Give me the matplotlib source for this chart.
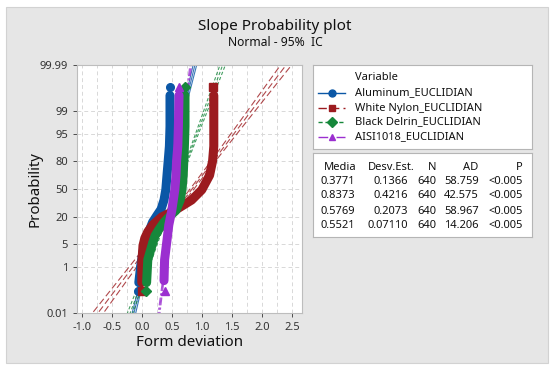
import statistics
import numpy as np
import matplotlib.pyplot as plt
from matplotlib.patches import Rectangle

plt.rcParams['font.family'] = ['Noto Sans', 'DejaVu Sans']

W, H = 550, 371

# =====================================================
# Data
# =====================================================

names = ["Aluminum_EUCLIDIAN", "White Nylon_EUCLIDIAN",
         "Black Delrin_EUCLIDIAN", "AISI1018_EUCLIDIAN"]

media = [0.3771, 0.8373, 0.5769, 0.5521]
desv = [0.1366, 0.4216, 0.2073, 0.07110]
n_obs = [640, 640, 640, 640]
ad = [58.759, 42.575, 58.967, 14.206]
p_val = ["<0.005", "<0.005", "<0.005", "<0.005"]

# empirical quantiles: x value vs. cumulative percent
alu_x = [-0.07, -0.05, -0.02, 0.02, 0.08, 0.13, 0.18, 0.26, 0.32, 0.37, 0.40, 0.42, 0.44, 0.46, 0.47, 0.47, 0.47]
alu_p = [0.11, 0.25, 1, 3, 7, 11, 16, 22, 27, 37, 49, 66, 80, 90, 97, 99.75, 99.89]

nyl_x = [0.0, 0.0, 0.0, 0.01, 0.02, 0.05, 0.10, 0.18, 0.33, 0.55, 0.83, 1.0, 1.13, 1.18, 1.2, 1.2, 1.2, 1.19]
nyl_p = [0.11, 0.25, 1.5, 2.5, 4.5, 7, 10, 14, 20, 26, 37, 49, 66, 80, 90, 97, 99.75, 99.89]

del_x = [0.07, 0.08, 0.10, 0.17, 0.22, 0.28, 0.37, 0.47, 0.57, 0.64, 0.67, 0.69, 0.70, 0.71, 0.72, 0.72, 0.72]
del_p = [0.11, 0.25, 1.7, 4.6, 8, 11, 16, 21, 26, 37, 49, 66, 80, 90, 97, 99.75, 99.89]

aisi_x = [0.38, 0.37, 0.38, 0.42, 0.45, 0.50, 0.55, 0.57, 0.58, 0.60, 0.61, 0.62, 0.62]
aisi_p = [0.11, 0.3, 1.7, 6.3, 14, 26, 49, 66, 80, 90, 97, 99.75, 99.89]

data_x = [alu_x, nyl_x, del_x, aisi_x]
data_p = [alu_p, nyl_p, del_p, aisi_p]

colors = ["#0B57A6", "#9C1B1F", "#16883B", "#9B2FD0"]
markers = ["o", "s", "D", "^"]
styles = ["-", (0, (6, 3)), (0, (3, 2)), (0, (7, 2, 2, 2))]

y_ticks = [0.01, 1, 5, 20, 50, 80, 95, 99, 99.99]
y_labels = ["0.01", "1", "5", "20", "50", "80", "95", "99", "99.99"]

nd = statistics.NormalDist()


def z_of(p):
    return [nd.inv_cdf(v / 100.0) for v in p]


def fx(px):
    return px / W


def fy(py):
    return 1 - py / H


# =====================================================
# Figure + grey panel
# =====================================================

fig = plt.figure(figsize=(5.5, 3.71), dpi=100)
fig.patch.set_facecolor("white")
fig.patches.append(Rectangle((fx(6), fy(363)), 542 / W, 356 / H,
                             transform=fig.transFigure, facecolor="#e6e6e6",
                             edgecolor="#d2d2d2", lw=0.8, zorder=-10))

fig.text(fx(275), fy(27), "Slope Probability plot", ha="center", va="center",
         fontsize=11, color="#111111")
fig.text(fx(275), fy(43), "Normal - 95%  IC", ha="center", va="center",
         fontsize=8.7, color="#111111")

# =====================================================
# Probability plot
# =====================================================

ax = fig.add_axes([fx(77), fy(313), 225 / W, 248 / H])
ax.set_facecolor("white")

zlim = nd.inv_cdf(0.9999)
ax.set_ylim(-zlim, zlim)
ax.set_xlim(-1.08, 2.67)

# fitted normal line and 95% confidence band from the table statistics
zz = np.linspace(-zlim - 0.2, zlim + 0.2, 60)
for i in range(4):
    mu, s, n = media[i], desv[i], n_obs[i]
    fit = mu + s * zz
    half = 1.96 * s * np.sqrt(1.0 / n + zz ** 2 / (2.0 * n))
    for xx in (fit, fit - half, fit + half):
        ax.plot(xx, zz, color=colors[i], ls=styles[i], lw=0.8, alpha=0.8, zorder=2)

for i in range(4):
    zs = z_of(data_p[i])
    xs = data_x[i]
    ax.plot(xs[1:-1], zs[1:-1], color=colors[i], lw=6.5, solid_capstyle="round",
            zorder=3 + (i == 3))
    ax.plot([xs[0], xs[-1]], [zs[0], zs[-1]], ls="none", marker=markers[i],
            ms=5.5, color=colors[i], zorder=3 + (i == 3))

ax.set_yticks(z_of(y_ticks))
ax.set_yticklabels(y_labels)
ax.set_xticks(np.arange(-1.0, 2.51, 0.5))
ax.set_xticklabels(["%.1f" % v for v in np.arange(-1.0, 2.51, 0.5)])
ax.set_xticks(np.arange(-1.0, 2.6, 0.25), minor=True)
ax.tick_params(axis="x", which="minor", length=0)
ax.tick_params(labelsize=8, colors="#333333", length=3, width=0.6)
ax.grid(True, which="both", axis="x", color="#d8d8d8", ls=(0, (4, 3)), lw=0.7)
ax.grid(True, which="major", axis="y", color="#d8d8d8", ls=(0, (4, 3)), lw=0.7)
ax.set_axisbelow(True)
for sp in ax.spines.values():
    sp.set_color("#bdbdbd")
    sp.set_linewidth(0.8)

fig.text(fx(35), fy(189), "Probability", rotation=90, ha="center", va="center",
         fontsize=10.8, color="#111111")
fig.text(fx(190), fy(343), "Form deviation", ha="center", va="center",
         fontsize=10.9, color="#111111")

# =====================================================
# Legend box
# =====================================================

L0, L1, T0, T1 = 313, 532, 65, 149
lg = fig.add_axes([fx(L0), fy(T1), (L1 - L0) / W, (T1 - T0) / H])
lg.set_xlim(L0, L1)
lg.set_ylim(T1, T0)
lg.set_xticks([])
lg.set_yticks([])
for sp in lg.spines.values():
    sp.set_color("#b5b5b5")
    sp.set_linewidth(0.8)

lg.text(355, 78, "Variable", va="center", ha="left", fontsize=8, color="#111111")
rows_y = [93, 108, 122, 137]
for i in range(4):
    lg.plot([318, 345], [rows_y[i], rows_y[i]], color=colors[i], ls=styles[i], lw=1.0)
    lg.plot([331.5], [rows_y[i]], marker=markers[i], color=colors[i], ms=5)
    lg.text(355, rows_y[i], names[i], va="center", ha="left", fontsize=8, color="#111111")

# =====================================================
# Statistics table
# =====================================================

B0, B1 = 153, 237
tb = fig.add_axes([fx(L0), fy(B1), (L1 - L0) / W, (B1 - B0) / H])
tb.set_xlim(L0, L1)
tb.set_ylim(B1, B0)
tb.set_xticks([])
tb.set_yticks([])
for sp in tb.spines.values():
    sp.set_color("#b5b5b5")
    sp.set_linewidth(0.8)

head_y = 167
tb.text(340, head_y, "Media", ha="center", va="center", fontsize=8, color="#111111")
tb.text(391, head_y, "Desv.Est.", ha="center", va="center", fontsize=8, color="#111111")
tb.text(432, head_y, "N", ha="center", va="center", fontsize=8, color="#111111")
tb.text(471, head_y, "AD", ha="center", va="center", fontsize=8, color="#111111")
tb.text(523, head_y, "P", ha="right", va="center", fontsize=8, color="#111111")

tab_y = [181, 196, 211, 225]
for i in range(4):
    y = tab_y[i]
    tb.text(355, y, "%.4f" % media[i], ha="right", va="center", fontsize=8, color="#111111")
    d = "%.4f" % desv[i] if desv[i] >= 0.1 else "%.5f" % desv[i]
    tb.text(408, y, d, ha="right", va="center", fontsize=8, color="#111111")
    tb.text(436, y, str(n_obs[i]), ha="right", va="center", fontsize=8, color="#111111")
    tb.text(479, y, "%.3f" % ad[i], ha="right", va="center", fontsize=8, color="#111111")
    tb.text(523, y, p_val[i], ha="right", va="center", fontsize=8, color="#111111")

fig.savefig("out.png", dpi=100)
